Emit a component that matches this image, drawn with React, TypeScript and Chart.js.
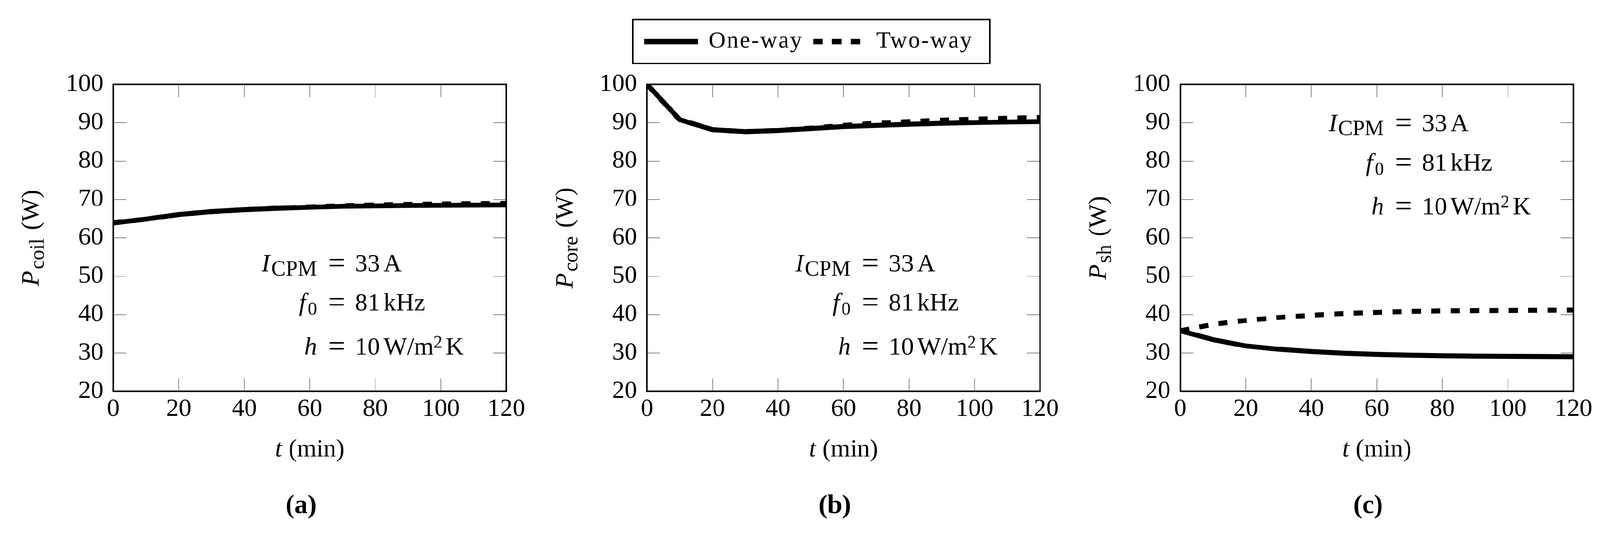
import React, { useEffect, useRef, useState } from 'react';
import { Chart, registerables } from 'chart.js';

Chart.register(...registerables);

// sample times (min)
const times = [0, 10, 20, 30, 40, 50, 60, 70, 80, 90, 100, 110, 120];

const coilOneWay = [63.9, 64.9, 66.1, 66.85, 67.35, 67.7, 68.0, 68.25, 68.35, 68.45, 68.5, 68.55, 68.6];
const coilTwoWay = [63.9, 64.9, 66.1, 66.85, 67.35, 67.75, 68.1, 68.4, 68.6, 68.75, 68.85, 68.95, 69.0];
const coreOneWay = [100, 90.8, 88.2, 87.7, 88.0, 88.5, 89.0, 89.3, 89.6, 89.85, 90.05, 90.2, 90.3];
const coreTwoWay = [100, 90.8, 88.2, 87.7, 88.0, 88.6, 89.3, 89.9, 90.3, 90.7, 90.95, 91.2, 91.4];
const shOneWay = [35.8, 33.5, 31.85, 31.0, 30.4, 29.95, 29.65, 29.45, 29.3, 29.2, 29.15, 29.1, 29.05];
const shTwoWay = [35.8, 37.5, 38.5, 39.25, 39.85, 40.3, 40.6, 40.85, 41.0, 41.05, 41.1, 41.15, 41.2];

const seriesNames = ['One-way', 'Two-way'];
const xRange = [0, 120];
const yRange = [20, 100];
const xStep = 20;
const yStep = 10;

const SERIF = "'Liberation Serif', 'Times New Roman', serif";
const PAGE_W = 4209;
const H = 1393;
const AREA = { left: 298, right: 1332, top: 222, bottom: 1030 };

type Run = { t: string; size?: number; italic?: boolean; bold?: boolean; dy?: number; gap?: number };

const runFont = (r: Run) =>
  `${r.italic ? 'italic ' : ''}${r.bold ? 'bold ' : ''}${r.size ?? 66}px ${SERIF}`;

function runsWidth(ctx: CanvasRenderingContext2D, runs: Run[]) {
  let w = 0;
  for (const r of runs) {
    ctx.font = runFont(r);
    w += ctx.measureText(r.t).width + (r.gap ?? 0);
  }
  return w;
}

function drawRuns(ctx: CanvasRenderingContext2D, runs: Run[], x: number, y: number) {
  for (const r of runs) {
    ctx.font = runFont(r);
    ctx.fillText(r.t, x, y + (r.dy ?? 0));
    x += ctx.measureText(r.t).width + (r.gap ?? 0);
  }
}

const noteLeft: Run[][] = [
  [{ t: 'I', italic: true, gap: 3 }, { t: 'CPM', size: 57, dy: 11 }],
  [{ t: 'f', italic: true, gap: 5 }, { t: '0', size: 48, dy: 11 }],
  [{ t: 'h', italic: true }],
];
const noteRight: Run[][] = [
  [{ t: '33', gap: 9 }, { t: 'A' }],
  [{ t: '81', gap: 9 }, { t: 'kHz' }],
  [{ t: '10', gap: 9 }, { t: 'W/m' }, { t: '2', size: 46, dy: -18, gap: 9 }, { t: 'K' }],
];
const noteX = 68.2;

const panels = [
  { id: 'a', left: 0, width: 1404, sub: 'coil', one: coilOneWay, two: coilTwoWay, noteY: [51.3, 41.1, 29.6], legend: false },
  { id: 'b', left: 1404, width: 1404, sub: 'core', one: coreOneWay, two: coreTwoWay, noteY: [51.3, 41.1, 29.6], legend: true },
  { id: 'c', left: 2807, width: 1402, sub: 'sh', one: shOneWay, two: shTwoWay, noteY: [87.8, 77.5, 66.1], legend: false },
];

type PanelDef = (typeof panels)[number];

const toPoints = (vals: number[]) => times.map((t, i) => ({ x: t, y: vals[i] }));

function framePlugin() {
  return {
    id: 'frame',
    beforeDatasetsDraw(chart: any) {
      const { ctx, chartArea: a, scales } = chart;
      const tick = 34;
      ctx.save();
      ctx.strokeStyle = '#808080';
      ctx.lineWidth = 2;
      ctx.beginPath();
      for (const t of scales.x.ticks) {
        const px = scales.x.getPixelForValue(t.value);
        ctx.moveTo(px, a.bottom);
        ctx.lineTo(px, a.bottom - tick);
        ctx.moveTo(px, a.top);
        ctx.lineTo(px, a.top + tick);
      }
      for (const t of scales.y.ticks) {
        const py = scales.y.getPixelForValue(t.value);
        ctx.moveTo(a.left, py);
        ctx.lineTo(a.left + tick, py);
        ctx.moveTo(a.right, py);
        ctx.lineTo(a.right - tick, py);
      }
      ctx.stroke();
      ctx.restore();
    },
    afterDatasetsDraw(chart: any) {
      const { ctx, chartArea: a } = chart;
      ctx.save();
      ctx.strokeStyle = '#000';
      ctx.lineWidth = 4;
      ctx.strokeRect(a.left, a.top, a.right - a.left, a.bottom - a.top);
      ctx.restore();
    },
  };
}

function textPlugin(p: PanelDef) {
  return {
    id: 'texts',
    afterDraw(chart: any) {
      const { ctx, chartArea: a, scales } = chart;
      ctx.save();
      ctx.fillStyle = '#000';
      ctx.textAlign = 'left';
      ctx.textBaseline = 'alphabetic';

      // y title, rotated
      const yTitle: Run[] = [
        { t: 'P', italic: true, gap: 4 },
        { t: p.sub, size: 54, dy: 13, gap: 22 },
        { t: '(W)' },
      ];
      ctx.save();
      ctx.translate(102, (a.top + a.bottom) / 2);
      ctx.rotate(-Math.PI / 2);
      drawRuns(ctx, yTitle, -runsWidth(ctx, yTitle) / 2, 0);
      ctx.restore();

      // x title
      const xTitle: Run[] = [{ t: 't', italic: true, gap: 17 }, { t: '(min)' }];
      drawRuns(ctx, xTitle, (a.left + a.right) / 2 - runsWidth(ctx, xTitle) / 2, 1201);

      // caption
      const cap: Run[] = [{ t: `(${p.id})`, bold: true, size: 70 }];
      drawRuns(ctx, cap, 792 - runsWidth(ctx, cap) / 2, 1350);

      // parameter block, aligned on "="
      const xEq = scales.x.getPixelForValue(noteX);
      p.noteY.forEach((v, i) => {
        const yb = scales.y.getPixelForValue(v);
        const left = noteLeft[i];
        drawRuns(ctx, left, xEq - 52 - runsWidth(ctx, left), yb);
        ctx.font = `80px ${SERIF}`;
        ctx.textAlign = 'center';
        ctx.fillText('=', xEq, yb + 4);
        ctx.textAlign = 'left';
        drawRuns(ctx, noteRight[i], xEq + 48, yb);
      });

      if (p.legend) {
        const box = { left: 261, right: 1200, top: 51, bottom: 167 };
        const midY = 109.5;
        ctx.strokeStyle = '#000';
        ctx.lineWidth = 4;
        ctx.strokeRect(box.left, box.top, box.right - box.left, box.bottom - box.top);
        const ds = chart.data.datasets;
        ctx.lineWidth = ds[1].borderWidth + 1;
        ctx.setLineDash([]);
        ctx.beginPath();
        ctx.moveTo(291, midY);
        ctx.lineTo(432, midY);
        ctx.stroke();
        ctx.setLineDash([25, 24.5]);
        ctx.beginPath();
        ctx.moveTo(735, midY);
        ctx.lineTo(859, midY);
        ctx.stroke();
        ctx.setLineDash([]);
        ctx.font = `62px ${SERIF}`;
        (ctx as any).letterSpacing = '3px';
        ctx.fillText(seriesNames[0], 460, 125);
        ctx.fillText(seriesNames[1], 901, 125);
        (ctx as any).letterSpacing = '0px';
      }
      ctx.restore();
    },
  };
}

function Panel({ p }: { p: PanelDef }) {
  const ref = useRef<HTMLCanvasElement>(null);

  useEffect(() => {
    const tickFont = { family: SERIF, size: 66 };
    const chart = new Chart(ref.current as HTMLCanvasElement, {
      type: 'line',
      data: {
        datasets: [
          {
            label: seriesNames[1],
            data: toPoints(p.two),
            borderColor: '#000',
            borderWidth: 13,
            borderDash: [24, 27],
            pointRadius: 0,
            tension: 0,
            fill: false,
            clip: 0,
          },
          {
            label: seriesNames[0],
            data: toPoints(p.one),
            borderColor: '#000',
            borderWidth: 13,
            pointRadius: 0,
            tension: 0,
            fill: false,
            clip: 0,
          },
        ],
      },
      options: {
        animation: false,
        responsive: false,
        devicePixelRatio: 1,
        events: [],
        layout: { padding: { left: 0, top: AREA.top, right: p.width - AREA.right, bottom: 0 } },
        scales: {
          x: {
            type: 'linear',
            min: xRange[0],
            max: xRange[1],
            afterFit: (s: any) => {
              s.height = H - AREA.bottom;
            },
            grid: { display: false, drawTicks: false },
            border: { display: false },
            ticks: { stepSize: xStep, padding: 7, color: '#000', font: tickFont, maxRotation: 0, autoSkip: false },
          },
          y: {
            type: 'linear',
            min: yRange[0],
            max: yRange[1],
            afterFit: (s: any) => {
              s.width = AREA.left;
            },
            grid: { display: false, drawTicks: false },
            border: { display: false },
            ticks: { stepSize: yStep, padding: 26, color: '#000', font: tickFont, autoSkip: false },
          },
        },
        plugins: { legend: { display: false }, tooltip: { enabled: false } },
      },
      plugins: [framePlugin(), textPlugin(p)],
    } as any);
    return () => chart.destroy();
  }, [p]);

  return (
    <canvas
      ref={ref}
      width={p.width}
      height={H}
      style={{ position: 'absolute', left: p.left, top: 0, width: p.width, height: H }}
    />
  );
}

export default function App() {
  // fit the 4209-wide figure into whatever CSS width the window reports
  const [scale] = useState(() => Math.min(1, (window.innerWidth || PAGE_W) / PAGE_W));
  return (
    <div
      style={{
        position: 'absolute',
        left: 0,
        top: 0,
        width: PAGE_W,
        height: H,
        overflow: 'hidden',
        background: '#fff',
        transform: `scale(${scale})`,
        transformOrigin: '0 0',
      }}
    >
      {panels.map((p) => (
        <Panel key={p.id} p={p} />
      ))}
    </div>
  );
}
